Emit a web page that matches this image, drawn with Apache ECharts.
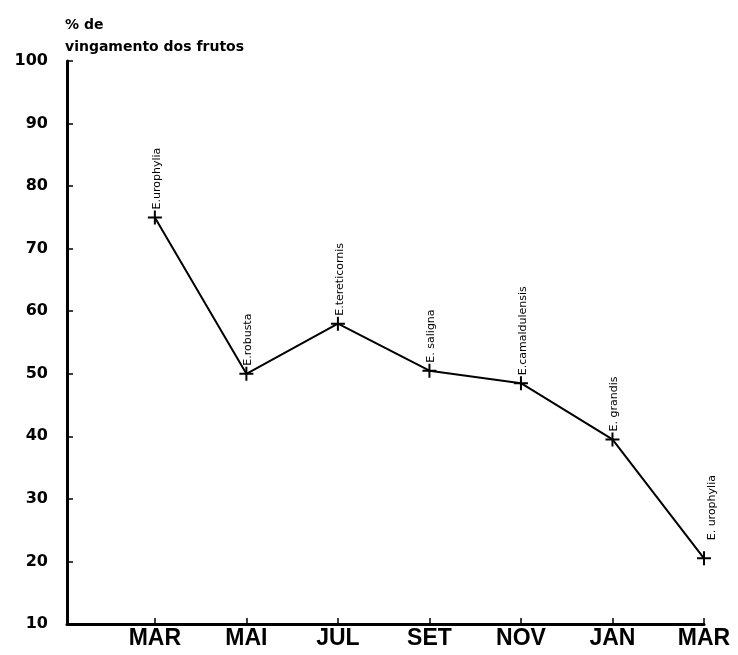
<!DOCTYPE html>
<html>
<head>
<meta charset="utf-8">
<script src="https://cdn.jsdelivr.net/npm/echarts@6/dist/echarts.min.js"></script>
<style>
  html, body { margin: 0; padding: 0; background: #fff; }
  #chart { width: 738px; height: 655px; }
</style>
</head>
<body>
<div id="chart"></div>
<script type="text/javascript">
// meses de floração (eixo x) e vingamento dos frutos (%)
var months = ['MAR', 'MAI', 'JUL', 'SET', 'NOV', 'JAN', 'MAR'];
var fruitSet = [75, 50, 58, 50.5, 48.5, 39.5, 20.5];
var species = ['E.urophylia', 'E.robusta', 'E.tereticornis', 'E. saligna', 'E.camaldulensis', 'E. grandis', 'E. urophylia'];
var monthPos = [0, 1, 2, 3, 4, 5, 6];

var chart = echarts.init(document.getElementById('chart'));

var points = [];
for (var i = 0; i < months.length; i++) {
  var item = { name: species[i], value: [monthPos[i], fruitSet[i]] };
  if (i == months.length - 1) {
    item.label = { position: [15, -11] };   // ultimo rotulo fica mais alto e a direita
  }
  points.push(item);
}

chart.setOption({
  backgroundColor: '#fff',
  animation: false,
  title: {
    text: '% de\nvingamento dos frutos',
    left: 60,
    top: 9,
    textStyle: {
      fontFamily: 'DejaVu Sans',
      fontWeight: 'bold',
      fontSize: 14,
      lineHeight: 22,
      color: '#000'
    }
  },
  grid: { left: 67, right: 34, top: 61, bottom: 31 },
  xAxis: {
    type: 'value',
    min: -0.96,
    max: 6,
    splitLine: { show: false },
    axisLine: { onZero: false, lineStyle: { color: '#000', width: 3 } },
    axisTick: {
      inside: true,
      length: 6,
      customValues: monthPos,
      lineStyle: { color: '#000', width: 1.5 }
    },
    axisLabel: {
      customValues: monthPos,
      formatter: function (v) { return months[Math.round(v)]; },
      margin: 3,
      color: '#000',
      fontFamily: 'Liberation Sans',
      fontWeight: 'bold',
      fontSize: 23
    }
  },
  yAxis: {
    type: 'value',
    min: 10,
    max: 100,
    interval: 10,
    splitLine: { show: false },
    axisLine: { show: true, onZero: false, lineStyle: { color: '#000', width: 3 } },
    axisTick: { show: true, inside: true, length: 6, lineStyle: { color: '#000', width: 1.5 } },
    axisLabel: {
      margin: 19,
      color: '#000',
      fontFamily: 'DejaVu Sans',
      fontWeight: 'bold',
      fontSize: 16
    }
  },
  series: [{
    type: 'line',
    data: points,
    symbol: 'path://M0,6h14v2h-14z M6,0h2v14h-2z',
    symbolSize: 14,
    itemStyle: { color: '#000' },
    lineStyle: { color: '#000', width: 2 },
    label: {
      show: true,
      formatter: '{b}',
      position: [9, -1],
      rotate: 90,
      align: 'left',
      verticalAlign: 'middle',
      color: '#000',
      fontFamily: 'DejaVu Sans',
      fontSize: 11
    }
  }]
});
</script>
</body>
</html>
